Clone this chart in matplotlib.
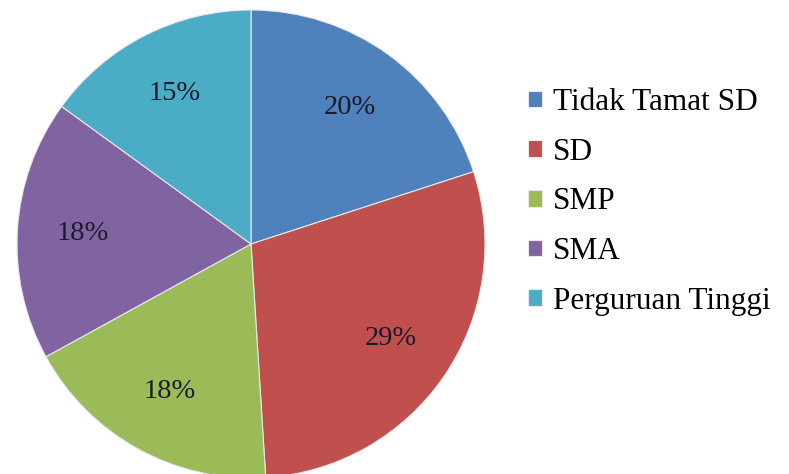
import matplotlib.pyplot as plt

# data
labels = ['Tidak Tamat SD', 'SD', 'SMP', 'SMA', 'Perguruan Tinggi']
values = [20, 29, 18, 18, 15]
colors = ['#4F81BD', '#C0504D', '#9BBB59', '#8064A2', '#4BACC6']

plt.rcParams['font.family'] = ['Liberation Serif', 'DejaVu Serif']

W, H = 789, 474
fig = plt.figure(figsize=(W / 100, H / 100), dpi=100)

# pie centre (251, 244) px, radius 234 px
cx, cy, r = 251, 244, 234
ax = fig.add_axes([(cx - r) / W, (H - cy - r) / H, 2 * r / W, 2 * r / H])

wedges, texts, autotexts = ax.pie(
    values, colors=colors, startangle=90, counterclock=False,
    autopct='%1.0f%%', pctdistance=0.72, radius=1.0,
    wedgeprops=dict(linewidth=0.8, edgecolor='#e8e8e8'),
    textprops=dict(fontsize=20.5, color='#1a1a2a'))
ax.set_xlim(-1, 1)
ax.set_ylim(-1, 1)
ax.set_aspect('equal')

leg = fig.legend(wedges, labels, loc='upper left',
                 bbox_to_anchor=(500 / W, 1 - 60 / H),
                 frameon=False, fontsize=22.5, handlelength=0.44,
                 handleheight=0.44, handletextpad=0.35, labelspacing=0.66)

fig.savefig('out.png', dpi=100)
